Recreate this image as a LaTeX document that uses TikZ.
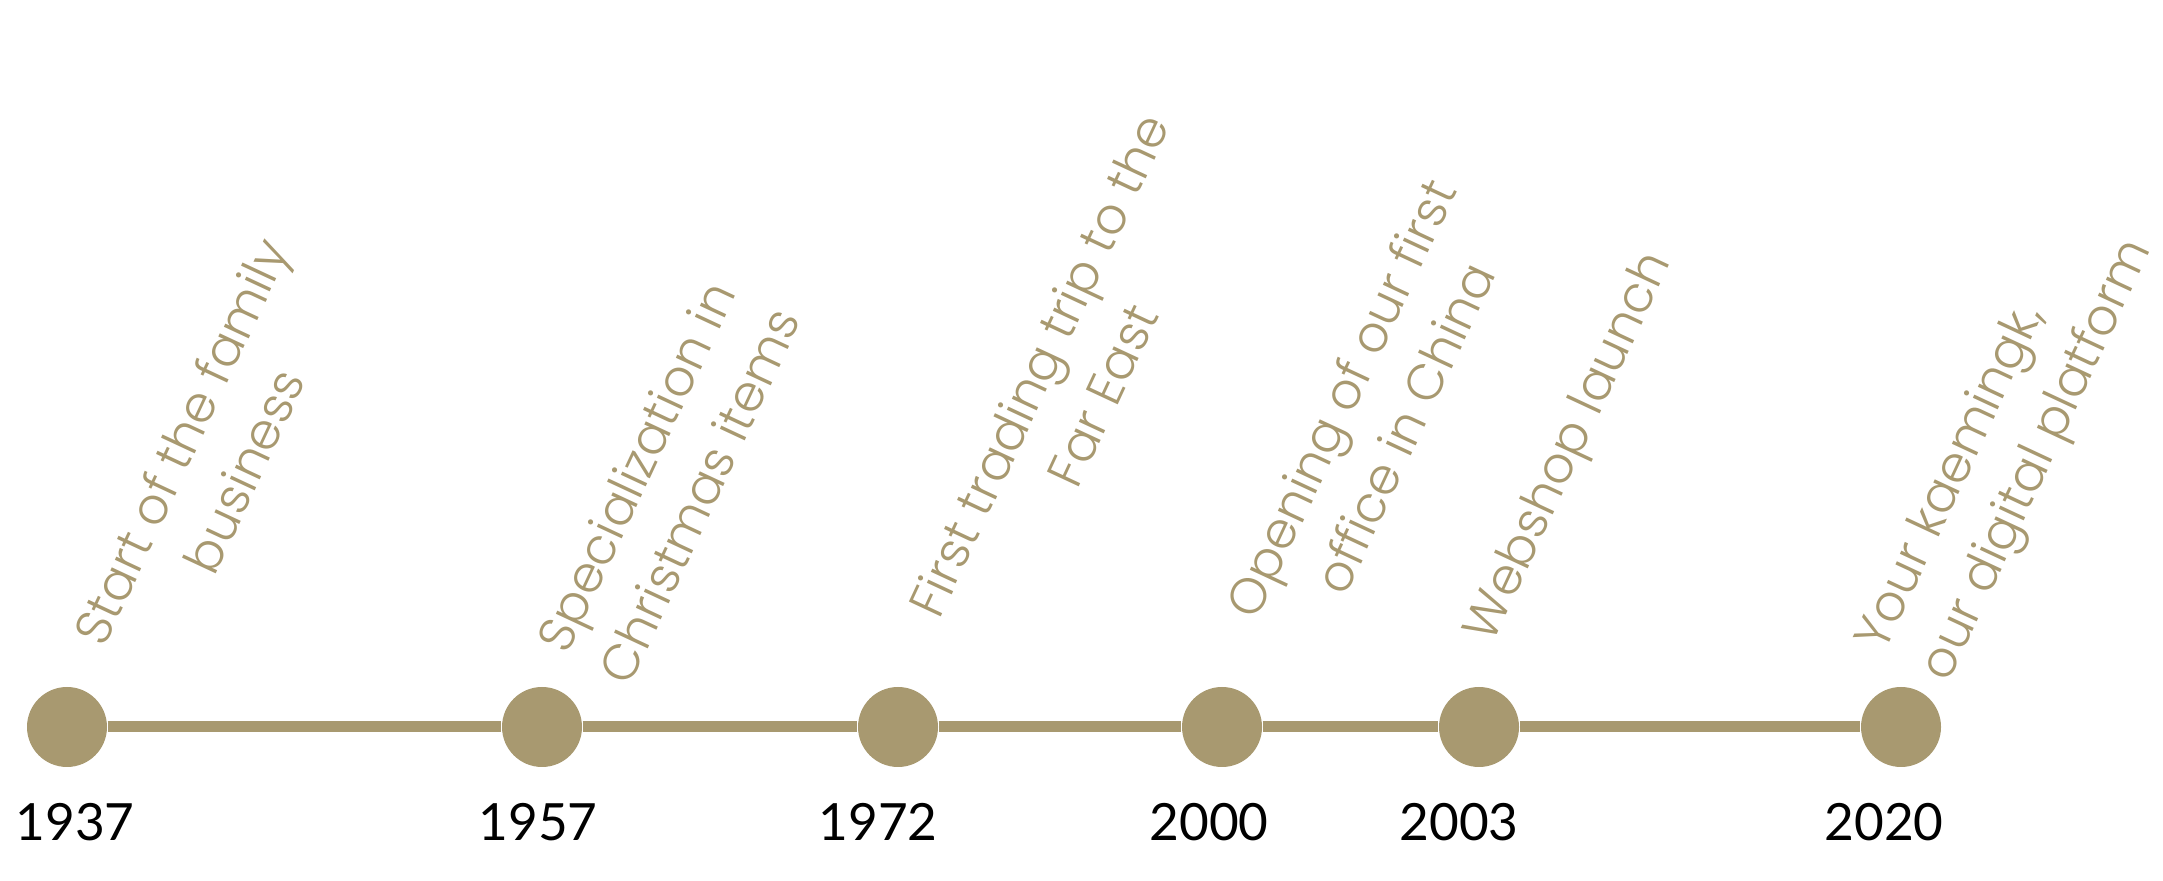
\documentclass[tikz,border=0pt]{standalone}
\usepackage{fontspec}
\setmainfont{Lato}
\IfFontExistsTF{Poppins Light}{\newfontfamily\eventfont{Poppins Light}}{\newfontfamily\eventfont{Poppins}}
\usetikzlibrary{positioning}
\definecolor{gold}{RGB}{168,153,112}

\begin{document}
\begin{tikzpicture}[
    dot/.style = {circle, fill=gold, minimum size=0.8cm, inner sep=0pt},
    year/.style = {anchor=base, text=black, font=\fontsize{14.6}{16}\selectfont},
    event/.style = {rotate=65, align=center, text=gold, font=\eventfont\fontsize{14.3}{20}\selectfont}
  ]
  \useasboundingbox (0,0) rectangle (21.63,8.81);

  \node[dot] (d1937) at (0.67,1.54) {};
  \node[dot] (d1957) at (5.42,1.54) {};
  \node[dot] (d1972) at (8.98,1.54) {};
  \node[dot] (d2000) at (12.22,1.54) {};
  \node[dot] (d2003) at (14.79,1.54) {};
  \node[dot] (d2020) at (19.01,1.54) {};
  \draw[gold, line width=0.11cm] (d1937) -- (d1957) -- (d1972) -- (d2000) -- (d2003) -- (d2020);

  \node[year] (t1937) at (0.75,0.40) {1937};
  \node[year] (t1957) at (5.38,0.40) {1957};
  \node[year] (t1972) at (8.78,0.40) {1972};
  \node[year] (t2000) at (12.09,0.40) {2000};
  \node[year] (t2003) at (14.59,0.40) {2003};
  \node[year] (t2020) at (18.84,0.40) {2020};

  \node[event] (e1937) at (2.12,4.25) {Start of the family\\business};
  \node[event] (e1957) at (6.67,4.00) {Specialization in\\Christmas items};
  \node[event] (e1972) at (10.70,5.01) {First trading trip to the\\Far East};
  \node[event] (e2000) at (13.72,4.68) {Opening of our first\\office in China};
  \node[event] (e2003) at (15.71,4.33) {Webshop launch};
  \node[event, align=left] (e2020) at (20.07,4.35) {Your kaemingk,\\our digital platform};
\end{tikzpicture}
\end{document}
